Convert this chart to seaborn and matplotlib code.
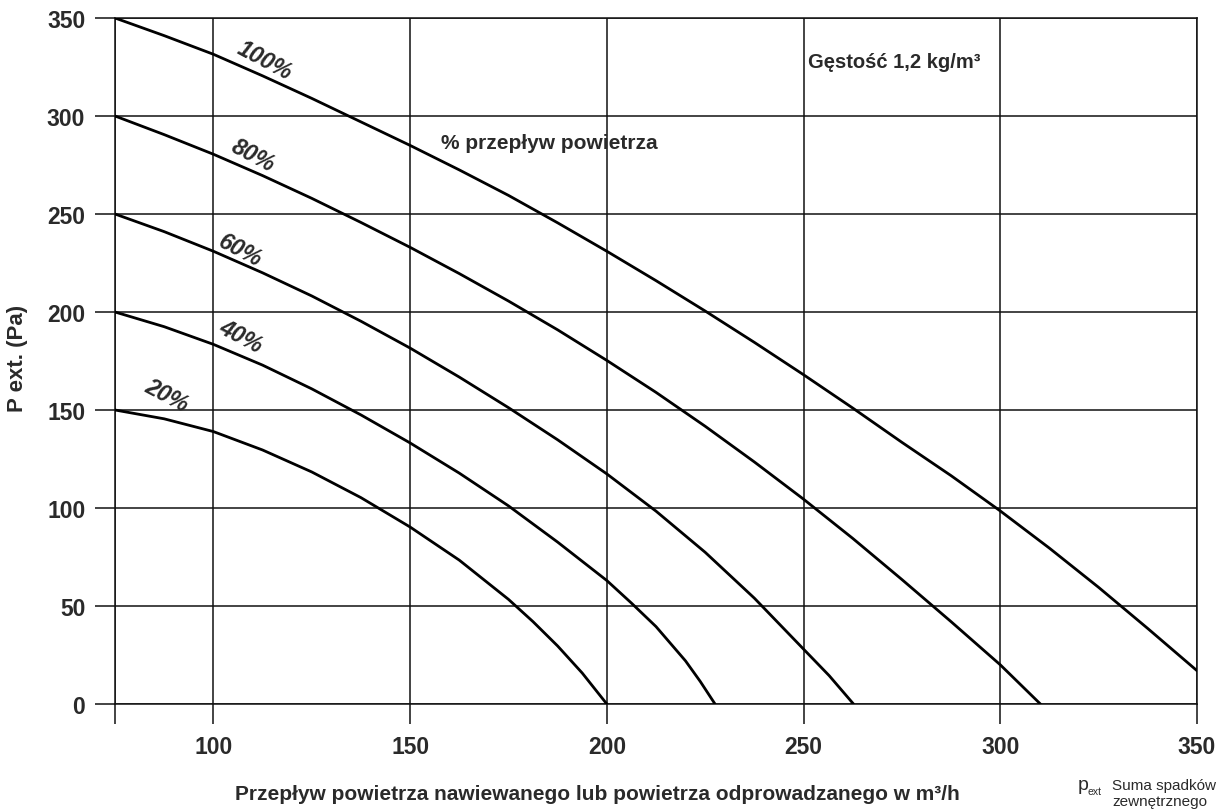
import numpy as np
import pandas as pd
import matplotlib
matplotlib.use("Agg")
import matplotlib.pyplot as plt
import seaborn as sns

# ---------------- data ----------------
q_100 = [75, 87.5, 100, 112.5, 125, 137.5, 150, 162.5, 175, 187.5, 200, 212.5,
         225, 237.5, 250, 262.5, 275, 287.5, 300, 312.5, 325, 337.5, 350]
p_100 = [350, 341, 331.5, 320.5, 309, 297, 285, 272.5, 259.5, 245.5, 231, 216,
         200.5, 184.5, 168, 151, 133.5, 116.5, 98.5, 79.5, 59.5, 38.5, 17]

q_80 = [75, 87.5, 100, 112.5, 125, 137.5, 150, 162.5, 175, 187.5, 200, 212.5,
        225, 237.5, 250, 262.5, 275, 287.5, 300, 310.2]
p_80 = [300, 290.5, 280.5, 269.6, 258, 245.7, 233, 219.6, 205.6, 190.9, 175.3, 159,
        141.7, 123.5, 104.5, 84.5, 63.5, 42, 20, 0]

q_60 = [75, 87.5, 100, 112.5, 125, 137.5, 150, 162.5, 175, 187.5, 200, 212.5,
        225, 237.5, 250, 256.5, 262.7]
p_60 = [250, 241, 231, 220, 208.2, 195.3, 181.6, 166.8, 151.2, 134.8, 117.4, 98.4,
        77.4, 54, 28, 14.5, 0]

q_40 = [75, 87.5, 100, 112.5, 125, 137.5, 150, 162.5, 175, 187.5, 200, 206.25,
        212.5, 220, 223.75, 227.5]
p_40 = [200, 192.5, 183.5, 172.9, 160.8, 147.5, 133.2, 117.8, 101.1, 82.6, 63, 51.5,
        39.5, 22, 11.5, 0]

q_20 = [75, 87.5, 100, 112.5, 125, 137.5, 150, 162.5, 175, 181.25, 187.5, 193.75, 200]
p_20 = [150, 145.5, 139, 129.6, 118.4, 105.3, 90.3, 73.4, 53.4, 42, 29.6, 15.8, 0]

series_names = ["100%", "80%", "60%", "40%", "20%"]

# label anchor positions (data coords) for the curve labels
label_q = [113.1, 110.0, 106.9, 107.0, 88.1]
label_p = [328.6, 280.3, 231.7, 187.5, 157.7]

x_ticks = [75, 100, 150, 200, 250, 300, 350]
x_tick_labels = ["", "100", "150", "200", "250", "300", "350"]
y_ticks = [0, 50, 100, 150, 200, 250, 300, 350]

# ---------------- build long table ----------------
frames = []
for name, q, p in zip(series_names,
                      [q_100, q_80, q_60, q_40, q_20],
                      [p_100, p_80, p_60, p_40, p_20]):
    frames.append(pd.DataFrame({"Q": q, "P": p, "series": name}))
df = pd.concat(frames, ignore_index=True)

# ---------------- style ----------------
sns.set_theme(style="white")
plt.rcParams["font.family"] = ["Liberation Sans", "DejaVu Sans"]

TXT = "#2a2a2a"
GRID = "#111111"

fig = plt.figure(figsize=(12.2, 8.12), dpi=100)
ax = fig.add_axes([115 / 1220, 1 - 705 / 812, (1197 - 115) / 1220, (705 - 19) / 812])

sns.lineplot(data=df, x="Q", y="P", hue="series", units="series",
             palette={n: "black" for n in series_names}, estimator=None,
             linewidth=2.0, legend=False, ax=ax, zorder=3)

ax.set_xlim(75, 350)
ax.set_ylim(0, 350)
ax.set_xticks(x_ticks)
ax.set_xticklabels(x_tick_labels)
ax.set_yticks(y_ticks)
ax.set_yticklabels([str(v) for v in y_ticks])
ax.set_xlabel("")
ax.set_ylabel("")

ax.grid(True, color=GRID, linewidth=1.1)
for s in ax.spines.values():
    s.set_visible(True)
    s.set_color(GRID)
    s.set_linewidth(1.1)

ax.tick_params(axis="both", which="major", direction="out", length=14.4, width=1.1,
               color=GRID, labelsize=16.5, labelcolor=TXT,
               bottom=True, left=True, top=False, right=False)
ax.tick_params(axis="y", pad=7)
ax.tick_params(axis="x", pad=8)
for lbl in ax.get_xticklabels() + ax.get_yticklabels():
    lbl.set_fontweight("bold")

# curve labels
for name, lq, lp in zip(series_names, label_q, label_p):
    ax.text(lq, lp, name, rotation=-28, ha="center", va="center",
            rotation_mode="anchor", fontsize=16.5, fontweight="bold",
            fontstyle="italic", color=TXT, zorder=4)

ax.text(157.9, 286.7, "% przepływ powietrza", ha="left", va="center",
        fontsize=15, fontweight="bold", color=TXT)
ax.text(251.2, 328, "Gęstość 1,2 kg/m³", ha="left", va="center",
        fontsize=14.5, fontweight="bold", color=TXT)

# axis titles
fig.text(18 / 1220, 1 - 358 / 812, "P ext. (Pa)", rotation=90, ha="center",
         va="center", fontsize=16, fontweight="bold", color=TXT)
fig.text(597 / 1220, 1 - 795 / 812,
         "Przepływ powietrza nawiewanego lub powietrza odprowadzanego w m³/h",
         ha="center", va="center", fontsize=15, fontweight="bold", color=TXT)

# footnote
fig.text(1078 / 1220, 1 - 786 / 812, "p", ha="left", va="center",
         fontsize=14, color=TXT)
fig.text(1087 / 1220, 1 - 792 / 812, "ext", ha="left", va="center",
         fontsize=7.5, color=TXT)
fig.text(1112 / 1220, 1 - 786 / 812, "Suma spadków", ha="left",
         va="center", fontsize=11, color=TXT)
fig.text(1112 / 1220, 1 - 802 / 812, "zewnętrznego", ha="left",
         va="center", fontsize=11, color=TXT)

fig.savefig("out.png", dpi=100)
